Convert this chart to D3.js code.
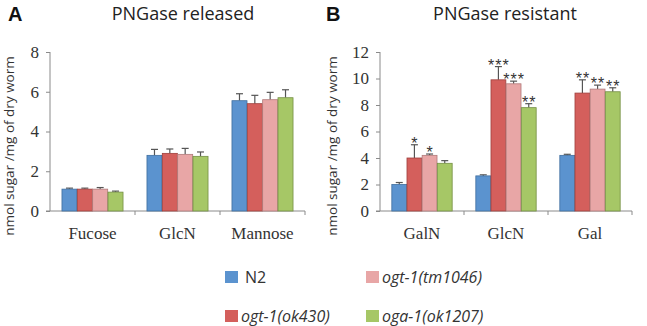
<!DOCTYPE html>
<html>
<head>
<meta charset="utf-8">
<script src="https://cdn.jsdelivr.net/npm/d3@7"></script>
<style>
  body { margin: 0; background: #fff; }
  svg { display: block; }
  .axis path, .axis line { stroke: #8a8a8a; }
</style>
</head>
<body>
<svg id="chart" width="647" height="326"></svg>
<script>
var series = ["N2", "ogt-1(ok430)", "ogt-1(tm1046)", "oga-1(ok1207)"];
var colors = ["#5b93cf", "#d45f5c", "#e8a6a6", "#a6c766"];
var strokes = ["#3f6e9e", "#9e3f3c", "#b07a7a", "#748f44"];

var catsA = ["Fucose", "GlcN", "Mannose"];
var valuesA = [
    [1.1, 1.1, 1.1, 0.95],
    [2.8, 2.9, 2.85, 2.75],
    [5.55, 5.4, 5.6, 5.7]
];
var errorsA = [
    [0.05, 0.05, 0.08, 0.05],
    [0.3, 0.22, 0.3, 0.22],
    [0.35, 0.42, 0.37, 0.4]
];

var catsB = ["GalN", "GlcN", "Gal"];
var valuesB = [
    [2.0, 4.0, 4.2, 3.6],
    [2.65, 9.9, 9.6, 7.8],
    [4.2, 8.9, 9.2, 9.0]
];
var errorsB = [
    [0.15, 1.0, 0.1, 0.2],
    [0.08, 1.0, 0.2, 0.3],
    [0.08, 1.0, 0.3, 0.3]
];
var starsB = [
    ["", "*", "*", ""],
    ["", "***", "***", "**"],
    ["", "**", "**", "**"]
];

var svg = d3.select("#chart");
var serif = "'Liberation Serif', 'DejaVu Serif', serif";
var sans = "'Open Sans', sans-serif";

function panel(opt) {
    var x = d3.scaleBand()
        .domain(opt.cats)
        .range([opt.x0, opt.x1]);

    var inner = d3.scaleBand()
        .domain(series)
        .range([0, x.bandwidth()])
        .paddingOuter(0.78)
        .paddingInner(0.02);

    var y = d3.scaleLinear()
        .domain([0, opt.max])
        .range([opt.y0, opt.y1]);

    var g = svg.append("g");

    // y axis
    var yAxis = g.append("g")
        .attr("class", "axis")
        .attr("transform", "translate(" + opt.x0 + ",0)")
        .call(d3.axisLeft(y).ticks(opt.max / 2).tickSize(4).tickPadding(7));
    yAxis.select(".domain").attr("d", "M0," + y(opt.max) + "V" + y(0));
    yAxis.style("font-family", serif).style("font-size", "17px");
    yAxis.selectAll("text")
        .style("font-family", serif)
        .style("font-size", "17px")
        .style("fill", "#333");

    // x axis with ticks at group boundaries
    var xAxis = g.append("g").attr("class", "axis");
    xAxis.append("line")
        .attr("x1", opt.x0 - 4).attr("x2", opt.x1)
        .attr("y1", y(0)).attr("y2", y(0));
    xAxis.selectAll("line.tick")
        .data(opt.cats)
        .enter().append("line")
        .attr("x1", d => x(d) + x.bandwidth())
        .attr("x2", d => x(d) + x.bandwidth())
        .attr("y1", y(0)).attr("y2", y(0) + 4);
    xAxis.selectAll("text")
        .data(opt.cats)
        .enter().append("text")
        .attr("x", d => x(d) + x.bandwidth() / 2)
        .attr("y", 239)
        .attr("text-anchor", "middle")
        .style("font-family", serif)
        .style("font-size", "17px")
        .style("fill", "#333")
        .text(d => d);

    var groups = g.selectAll("g.grp")
        .data(opt.cats)
        .enter().append("g")
        .attr("class", "grp")
        .attr("transform", d => "translate(" + x(d) + ",0)");

    groups.each(function(cat, ci) {
        var sel = d3.select(this);
        var rows = series.map((s, si) => ({
            s: s, si: si,
            v: opt.values[ci][si],
            e: opt.errors[ci][si],
            star: opt.stars ? opt.stars[ci][si] : ""
        }));

        // error bars (upper only)
        sel.selectAll("line.err")
            .data(rows)
            .enter().append("line")
            .attr("x1", d => inner(d.s) + inner.bandwidth() / 2)
            .attr("x2", d => inner(d.s) + inner.bandwidth() / 2)
            .attr("y1", d => y(d.v))
            .attr("y2", d => y(d.v + d.e))
            .attr("stroke", "#555")
            .attr("stroke-width", 1.2);
        sel.selectAll("line.cap")
            .data(rows)
            .enter().append("line")
            .attr("x1", d => inner(d.s) + inner.bandwidth() / 2 - 3.5)
            .attr("x2", d => inner(d.s) + inner.bandwidth() / 2 + 3.5)
            .attr("y1", d => y(d.v + d.e))
            .attr("y2", d => y(d.v + d.e))
            .attr("stroke", "#555")
            .attr("stroke-width", 1.2);

        sel.selectAll("rect")
            .data(rows)
            .enter().append("rect")
            .attr("x", d => inner(d.s))
            .attr("y", d => y(d.v))
            .attr("width", inner.bandwidth())
            .attr("height", d => y(0) - y(d.v))
            .attr("fill", d => colors[d.si])
            .attr("stroke", d => strokes[d.si])
            .attr("stroke-width", 0.8);

        sel.selectAll("text.star")
            .data(rows.filter(d => d.star))
            .enter().append("text")
            .attr("x", d => inner(d.s) + inner.bandwidth() / 2 + 0.5)
            .attr("y", d => y(d.v + d.e) + 4)
            .attr("text-anchor", "middle")
            .style("font-family", "'Liberation Sans', sans-serif")
            .style("font-size", "16px")
            .style("letter-spacing", "1px")
            .style("fill", "#333")
            .text(d => d.star);
    });

    // y label
    svg.append("text")
        .attr("transform", "translate(" + opt.labelX + "," + 146 + ") rotate(-90)")
        .attr("dy", "0.35em")
        .attr("text-anchor", "middle")
        .style("font-family", sans)
        .style("font-size", "13.5px")
        .style("fill", "#333")
        .text("nmol sugar /mg of dry worm");

    // title and panel letter
    svg.append("text")
        .attr("x", opt.titleX).attr("y", 20)
        .attr("text-anchor", "middle")
        .style("font-family", sans)
        .style("font-size", "18px")
        .style("fill", "#222")
        .text(opt.title);
    svg.append("text")
        .attr("x", opt.letterX).attr("y", 21)
        .style("font-family", "'Liberation Sans', sans-serif")
        .style("font-weight", "bold")
        .style("font-size", "20px")
        .style("fill", "#111")
        .text(opt.letter);
}

panel({ cats: catsA, values: valuesA, errors: errorsA, max: 8,
        x0: 50, x1: 305, y0: 211, y1: 52, labelX: 9,
        title: "PNGase released", titleX: 183, letter: "A", letterX: 8 });

panel({ cats: catsB, values: valuesB, errors: errorsB, stars: starsB, max: 12,
        x0: 380, x1: 632, y0: 211, y1: 52, labelX: 332,
        title: "PNGase resistant", titleX: 505, letter: "B", letterX: 326 });

// legend
var legendPos = [[225, 277], [225, 316], [366, 277], [366, 316]];
var leg = svg.append("g").selectAll("g")
    .data(series)
    .enter().append("g")
    .attr("transform", (d, i) => "translate(" + legendPos[i][0] + "," + legendPos[i][1] + ")");
leg.append("rect")
    .attr("x", 0).attr("y", -6)
    .attr("width", 13).attr("height", 12)
    .attr("fill", (d, i) => colors[i]);
leg.append("text")
    .attr("x", (d, i) => i == 0 ? 20 : 16)
    .attr("y", 6)
    .style("font-family", sans)
    .style("font-size", "16px")
    .style("font-style", (d, i) => i == 0 ? "normal" : "italic")
    .style("fill", "#333")
    .text(d => d);
</script>
</body>
</html>
